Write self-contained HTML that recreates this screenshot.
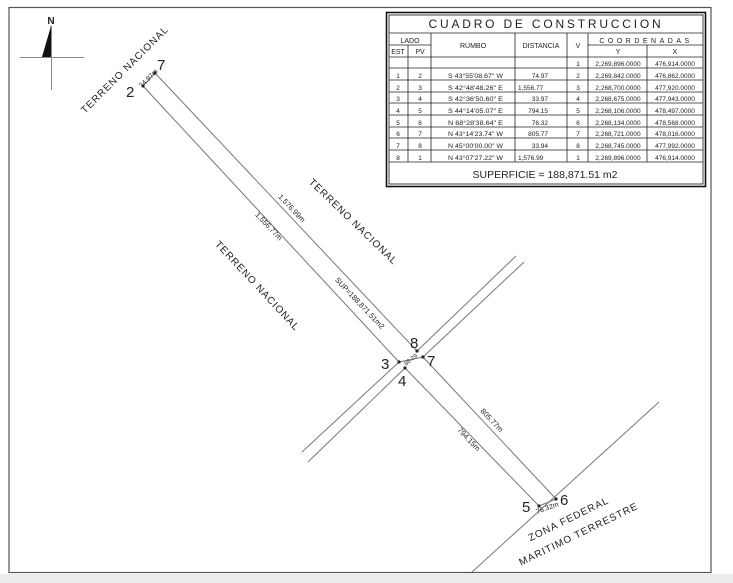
<!DOCTYPE html>
<html><head><meta charset="utf-8"><style>
html,body{margin:0;padding:0;background:#fff;}
svg{display:block;}
text{font-family:"Liberation Sans",sans-serif;fill:#222;}
</style></head><body>
<svg width="733" height="583" viewBox="0 0 733 583" xmlns="http://www.w3.org/2000/svg">
<rect x="0" y="0" width="733" height="583" fill="#fff"/>
<rect x="0" y="574" width="733" height="9" fill="#ececec"/>
<rect x="9" y="7.5" width="702" height="565" fill="none" stroke="#555" stroke-width="1.2"/>
<text x="51" y="24" font-size="10" font-weight="bold" text-anchor="middle">N</text>
<polygon points="51,26 42,57 51,57" fill="#111"/>
<line x1="51" y1="26" x2="51" y2="57" stroke="#111"/>
<line x1="20" y1="57.5" x2="84" y2="57.5" stroke="#888"/>
<line x1="51.5" y1="57" x2="51.5" y2="90" stroke="#888"/>
<g stroke="#777" stroke-width="1" fill="none">
<line x1="143" y1="86" x2="399" y2="362"/>
<line x1="405" y1="368" x2="539" y2="506"/>
<line x1="155" y1="73" x2="417" y2="351"/>
<line x1="423" y1="357" x2="556" y2="499"/>
<line x1="143" y1="86" x2="155" y2="73"/>
<line x1="539" y1="506" x2="556" y2="499"/>
<line x1="302" y1="452" x2="399" y2="362"/>
<line x1="417" y1="351" x2="516" y2="256"/>
<line x1="308" y1="462" x2="405" y2="368"/>
<line x1="423" y1="357" x2="524" y2="262"/>
<line x1="399" y1="362" x2="423" y2="357"/>
<line x1="472" y1="572" x2="659" y2="402"/>
</g>
<g fill="#222">
<circle cx="143" cy="86" r="1.6"/><circle cx="155" cy="73" r="1.6"/>
<circle cx="417" cy="351" r="1.6"/><circle cx="423" cy="357" r="1.6"/>
<circle cx="399" cy="362" r="1.6"/><circle cx="405" cy="368" r="1.6"/>
<circle cx="539" cy="506" r="1.6"/><circle cx="556" cy="499" r="1.6"/>
</g>
<g font-size="15" fill="#333">
<text x="126" y="97">2</text><text x="157" y="70">7</text>
<text x="410" y="348">8</text><text x="427" y="366">7</text>
<text x="381" y="369">3</text><text x="398" y="386">4</text>
<text x="522" y="512">5</text><text x="560" y="505">6</text>
</g>
<g font-size="7.5">
<text transform="translate(150,80) rotate(-45)" text-anchor="middle" font-size="7">74.97m</text>
<text transform="translate(412,361) rotate(-40)" text-anchor="middle" font-size="6">86.29</text>
<text transform="translate(548,510) rotate(-20)" text-anchor="middle" font-size="7">76.32m</text>
<text transform="translate(290,210) rotate(46.5)" text-anchor="middle">1,576.99m</text>
<text transform="translate(267,228) rotate(46.5)" text-anchor="middle">1,556.77m</text>
<text transform="translate(358,305) rotate(46.5)" text-anchor="middle">SUP=188,871.51m2</text>
<text transform="translate(490,422) rotate(46.5)" text-anchor="middle">805.77m</text>
<text transform="translate(467,441) rotate(46.5)" text-anchor="middle">794.15m</text>
</g>
<g font-size="10" letter-spacing="1" fill="#333">
<text transform="translate(127,72) rotate(-45)" text-anchor="middle">TERRENO NACIONAL</text>
<text transform="translate(351,224) rotate(44)" text-anchor="middle">TERRENO NACIONAL</text>
<text transform="translate(255,288) rotate(47)" text-anchor="middle">TERRENO NACIONAL</text>
<text transform="translate(570,522) rotate(-26)" text-anchor="middle">ZONA FEDERAL</text>
<text transform="translate(580,537) rotate(-26)" text-anchor="middle">MARITIMO TERRESTRE</text>
</g>
<g fill="none" stroke="#111">
<rect x="386.5" y="12.5" width="319" height="174" stroke-width="1.6"/>
<rect x="389" y="15" width="314" height="169" stroke-width="0.8"/>
</g>
<g stroke="#222" stroke-width="0.8">
<line x1="389" y1="33" x2="703" y2="33"/>
<line x1="389" y1="45" x2="431" y2="45"/>
<line x1="588" y1="45" x2="703" y2="45"/>
<line x1="389" y1="57" x2="703" y2="57"/>
<line x1="389" y1="68" x2="703" y2="68"/>
<line x1="389" y1="80" x2="703" y2="80"/>
<line x1="389" y1="92" x2="703" y2="92"/>
<line x1="389" y1="103" x2="703" y2="103"/>
<line x1="389" y1="115" x2="703" y2="115"/>
<line x1="389" y1="127" x2="703" y2="127"/>
<line x1="389" y1="138" x2="703" y2="138"/>
<line x1="389" y1="150" x2="703" y2="150"/>
<line x1="389" y1="162" x2="703" y2="162"/>
<line x1="408" y1="45" x2="408" y2="162"/>
<line x1="431" y1="33" x2="431" y2="162"/>
<line x1="515" y1="33" x2="515" y2="162"/>
<line x1="567" y1="33" x2="567" y2="162"/>
<line x1="588" y1="33" x2="588" y2="162"/>
<line x1="647" y1="45" x2="647" y2="162"/>
</g>
<text x="546" y="28" font-size="12" text-anchor="middle" letter-spacing="2.8" fill="#333">CUADRO DE CONSTRUCCION</text>
<g font-size="7" text-anchor="middle">
<text x="410" y="43">LADO</text>
<text x="398" y="54">EST</text><text x="420" y="54">PV</text>
<text x="473" y="48">RUMBO</text>
<text x="541" y="48">DISTANCIA</text>
<text x="578" y="48">V</text>
<text x="646" y="43" letter-spacing="3.5">COORDENADAS</text>
<text x="618" y="54">Y</text><text x="675" y="54">X</text>
</g>
<g font-size="6.5" text-anchor="middle">
<text x="578" y="66">1</text><text x="618" y="66">2,269,896.0000</text><text x="675" y="66">476,914.0000</text>
<text x="398" y="78">1</text><text x="420" y="78">2</text><text x="578" y="78">2</text><text x="618" y="78">2,269,842.0000</text><text x="675" y="78">476,862.0000</text>
<text x="398" y="90">2</text><text x="420" y="90">3</text><text x="578" y="90">3</text><text x="618" y="90">2,268,700.0000</text><text x="675" y="90">477,920.0000</text>
<text x="398" y="101">3</text><text x="420" y="101">4</text><text x="578" y="101">4</text><text x="618" y="101">2,268,675.0000</text><text x="675" y="101">477,943.0000</text>
<text x="398" y="113">4</text><text x="420" y="113">5</text><text x="578" y="113">5</text><text x="618" y="113">2,268,106.0000</text><text x="675" y="113">478,497.0000</text>
<text x="398" y="125">5</text><text x="420" y="125">6</text><text x="578" y="125">6</text><text x="618" y="125">2,268,134.0000</text><text x="675" y="125">478,568.0000</text>
<text x="398" y="136">6</text><text x="420" y="136">7</text><text x="578" y="136">7</text><text x="618" y="136">2,268,721.0000</text><text x="675" y="136">478,016.0000</text>
<text x="398" y="148">7</text><text x="420" y="148">8</text><text x="578" y="148">8</text><text x="618" y="148">2,268,745.0000</text><text x="675" y="148">477,992.0000</text>
<text x="398" y="160">8</text><text x="420" y="160">1</text><text x="578" y="160">1</text><text x="618" y="160">2,269,896.0000</text><text x="675" y="160">476,914.0000</text>
</g>
<g font-size="6.5">
<text x="448" y="78" textLength="55" lengthAdjust="spacingAndGlyphs">S 43°55'08.67" W</text>
<text x="448" y="90" textLength="55" lengthAdjust="spacingAndGlyphs">S 42°48'48.26" E</text>
<text x="448" y="101" textLength="55" lengthAdjust="spacingAndGlyphs">S 42°36'50.60" E</text>
<text x="448" y="113" textLength="55" lengthAdjust="spacingAndGlyphs">S 44°14'05.07" E</text>
<text x="448" y="125" textLength="55" lengthAdjust="spacingAndGlyphs">N 68°28'38.64" E</text>
<text x="448" y="136" textLength="55" lengthAdjust="spacingAndGlyphs">N 43°14'23.74" W</text>
<text x="448" y="148" textLength="55" lengthAdjust="spacingAndGlyphs">N 45°00'00.00" W</text>
<text x="448" y="160" textLength="55" lengthAdjust="spacingAndGlyphs">N 43°07'27.22" W</text>
</g>
<g font-size="6.5" text-anchor="end">
<text x="548" y="78">74.97</text><text x="548" y="101">33.97</text><text x="548" y="113">794.15</text><text x="548" y="125">76.32</text><text x="548" y="136">805.77</text><text x="548" y="148">33.94</text>
</g>
<g font-size="6.5">
<text x="518" y="90">1,556.77</text><text x="518" y="160">1,576.99</text>
</g>
<text x="545" y="178" font-size="10.5" text-anchor="middle" fill="#333">SUPERFICIE = 188,871.51 m2</text>
</svg>
</body></html>
